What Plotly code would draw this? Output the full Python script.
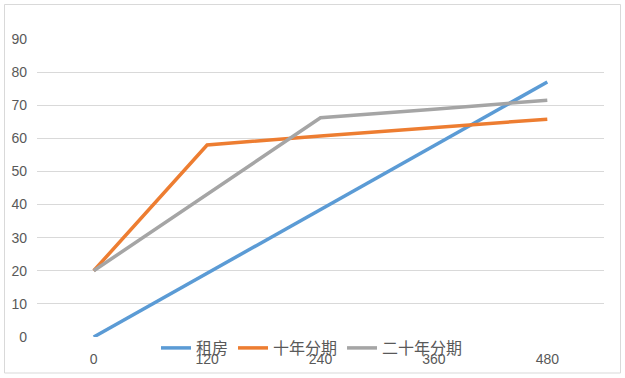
import plotly.graph_objects as go

months = [0, 120, 240, 360, 480]
rent = [0, 19.3, 38.5, 57.8, 77]
ten_year = [20, 58, 60.7, 63.2, 65.8]
twenty_year = [20, 43.1, 66.2, 68.8, 71.5]
series_names = ["租房", "十年分期", "二十年分期"]
colors = ["#5B9BD5", "#ED7D31", "#A5A5A5"]

fig = go.Figure()
for name, ys, c in zip(series_names, [rent, ten_year, twenty_year], colors):
    fig.add_trace(go.Scatter(x=months, y=ys, name=name, mode="lines",
                             line=dict(color=c, width=3.5)))

L, R, T, B = 37, 21, 39, 41
W, H = 625, 378
pw, ph = W - L - R, H - T - B

def px_x(p):
    return (p - L) / pw

def px_y(p):
    return (H - B - p) / ph

fig.update_layout(
    width=W, height=H,
    margin=dict(l=L, r=R, t=T, b=B),
    paper_bgcolor="white", plot_bgcolor="white",
    font=dict(family="Liberation Sans, Noto Sans CJK SC", color="#595959", size=14),
    showlegend=True,
    legend=dict(orientation="h", x=px_x(312), xanchor="center", y=px_y(348), yanchor="middle",
                bgcolor="rgba(0,0,0,0)", font=dict(size=16, family="Noto Sans CJK SC", color="#595959"),
                itemwidth=30, tracegroupgap=0),
    xaxis=dict(range=[-60, 540], tickvals=months, ticktext=[str(m) for m in months],
               showgrid=False, zeroline=False, showline=False, ticks="",
               ticklabelstandoff=12, tickfont=dict(size=14, color="#595959")),
    yaxis=dict(range=[0, 90], tickvals=list(range(0, 100, 10)), showgrid=True,
               gridcolor="#D9D9D9", gridwidth=1, zeroline=False, showline=False, ticks="",
               ticklabelstandoff=9, tickfont=dict(size=14, color="#595959")),
    shapes=[dict(type="rect", xref="paper", yref="paper",
                 x0=px_x(4.5), x1=px_x(620.5), y0=px_y(373), y1=px_y(4.5),
                 line=dict(color="#D9D9D9", width=1), layer="above")],
)

fig.write_html("out.html", config={"displayModeBar": False},
               post_script="document.body.style.margin='0';")
